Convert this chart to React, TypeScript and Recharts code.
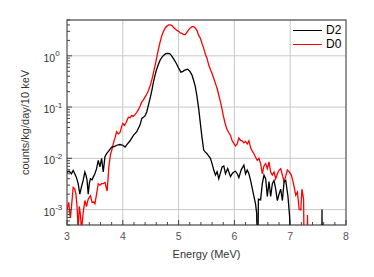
import { LineChart, Line, XAxis, YAxis, CartesianGrid, ReferenceArea } from "recharts";

// energy (MeV) and rate (counts/kg/day/10 keV); 0 means an empty bin
const d2Energy = [
  3.0, 3.04, 3.08, 3.11, 3.14, 3.17, 3.2, 3.23, 3.26, 3.29, 3.32, 3.34, 3.36, 3.38, 3.4, 3.42, 3.45, 3.47, 3.5,
  3.53, 3.56, 3.59, 3.62, 3.65, 3.68, 3.71, 3.75, 3.8, 3.85, 3.89, 3.95, 4.0, 4.04, 4.08, 4.13, 4.19, 4.25, 4.31,
  4.34, 4.37, 4.4, 4.43, 4.46, 4.49, 4.52, 4.55, 4.58, 4.61, 4.64, 4.67, 4.7, 4.73, 4.77, 4.8, 4.84, 4.87, 4.91,
  4.96, 5.0, 5.04, 5.07, 5.1, 5.16, 5.2, 5.24, 5.27, 5.3, 5.33, 5.36, 5.39, 5.42, 5.45, 5.48, 5.51, 5.54, 5.57,
  5.6, 5.63, 5.66, 5.69, 5.72, 5.75, 5.78, 5.81, 5.84, 5.88, 5.93, 5.96, 5.99, 6.02, 6.05, 6.08, 6.12, 6.17,
  6.2, 6.23, 6.26, 6.29, 6.32, 6.35, 6.38, 6.4, 6.41, 6.43, 6.47, 6.5, 6.53, 6.56, 6.59, 6.62, 6.65, 6.68, 6.71,
  6.74, 6.77, 6.8, 6.83, 6.86, 6.89, 6.92, 6.96, 6.99, 7.01, 7.56, 7.57, 7.58, 8.0,
];
const d2Counts = [
  0.0054, 0.0056, 0.005, 0.0058, 0.005, 0.0042, 0.0032, 0.002, 0.0028, 0.0037, 0.0054, 0.0047, 0.0037, 0.002,
  0.0032, 0.004, 0.0038, 0.0043, 0.005, 0.0063, 0.0091, 0.0068, 0.01, 0.0054, 0.0107, 0.0123, 0.014, 0.0166,
  0.017, 0.018, 0.0186, 0.018, 0.0166, 0.019, 0.022, 0.028, 0.033, 0.045, 0.06, 0.063, 0.068, 0.081, 0.11, 0.15,
  0.21, 0.31, 0.43, 0.56, 0.69, 0.83, 0.93, 1.02, 1.1, 1.12, 1.1, 1.02, 0.87, 0.71, 0.58, 0.48, 0.49, 0.52, 0.55,
  0.5, 0.42, 0.33, 0.25, 0.16, 0.093, 0.048, 0.025, 0.0145, 0.0132, 0.0123, 0.011, 0.01, 0.0079, 0.0059, 0.0047,
  0.0055, 0.004, 0.0052, 0.0068, 0.0071, 0.005, 0.0063, 0.0044, 0.005, 0.0054, 0.0056, 0.005, 0.0042, 0.0059,
  0.0074, 0.005, 0.0059, 0.005, 0.0037, 0.0026, 0.0018, 0.00126, 0.00083, 0, 0.0016, 0.00155, 0.0032, 0.0047,
  0.004, 0.0018, 0.0035, 0.0018, 0.0032, 0.0037, 0.0025, 0.0015, 0.002, 0.0025, 0.0015, 0.0035, 0.0037, 0.0018,
  0.00072, 0, 0, 0.001, 0, 0,
];

const d0Energy = [
  3.0, 3.03, 3.06, 3.08, 3.11, 3.14, 3.16, 3.18, 3.2, 3.22, 3.24, 3.26, 3.29, 3.32, 3.35, 3.38, 3.42, 3.45, 3.48,
  3.5, 3.53, 3.56, 3.59, 3.62, 3.65, 3.68, 3.72, 3.75, 3.78, 3.8, 3.83, 3.86, 3.89, 3.92, 3.95, 3.98, 4.0, 4.03,
  4.06, 4.1, 4.13, 4.16, 4.19, 4.22, 4.25, 4.28, 4.31, 4.34, 4.37, 4.4, 4.43, 4.46, 4.49, 4.52, 4.55, 4.58, 4.61,
  4.64, 4.67, 4.7, 4.73, 4.76, 4.79, 4.82, 4.85, 4.88, 4.92, 4.96, 5.0, 5.03, 5.06, 5.09, 5.12, 5.15, 5.18, 5.21,
  5.24, 5.27, 5.3, 5.33, 5.36, 5.39, 5.42, 5.45, 5.48, 5.51, 5.54, 5.57, 5.6, 5.63, 5.66, 5.69, 5.72, 5.75, 5.78,
  5.8, 5.83, 5.86, 5.89, 5.93, 5.96, 5.99, 6.02, 6.05, 6.08, 6.11, 6.14, 6.17, 6.2, 6.23, 6.26, 6.29, 6.32, 6.35,
  6.38, 6.41, 6.44, 6.47, 6.5, 6.53, 6.56, 6.59, 6.62, 6.65, 6.68, 6.71, 6.74, 6.77, 6.8, 6.83, 6.86, 6.89, 6.92,
  6.95, 6.98, 7.02, 7.05, 7.07, 7.1, 7.13, 7.16, 7.19, 7.21, 7.24, 7.26, 7.29, 7.31, 7.33, 8.0,
];
const d0Counts = [
  0.00098, 0.00138, 0.00069, 0.00112, 0.0027, 0.0025, 0.002, 0.00115, 0.0004, 0.00115, 0.0008, 0.0004, 0.00087,
  0.0015, 0.00115, 0.0016, 0.00186, 0.00138, 0.0014, 0.0013, 0.002, 0.0032, 0.003, 0.0032, 0.0032, 0.0034, 0.0023,
  0.0068, 0.012, 0.014, 0.0195, 0.025, 0.033, 0.03, 0.032, 0.042, 0.048, 0.044, 0.05, 0.063, 0.062, 0.069, 0.066,
  0.072, 0.079, 0.089, 0.105, 0.126, 0.138, 0.158, 0.18, 0.21, 0.26, 0.34, 0.47, 0.66, 0.95, 1.38, 1.9, 2.5, 3.0,
  3.5, 3.8, 4.0, 4.0, 3.9, 3.5, 3.2, 3.0, 2.8, 2.75, 2.6, 2.6, 2.9, 3.2, 3.5, 3.7, 3.7, 3.5, 3.1, 2.5, 2.2, 1.74,
  1.4, 1.07, 0.89, 0.66, 0.54, 0.45, 0.36, 0.29, 0.23, 0.17, 0.126, 0.089, 0.069, 0.05, 0.038, 0.033, 0.028,
  0.022, 0.0195, 0.0174, 0.019, 0.025, 0.0224, 0.022, 0.02, 0.0214, 0.019, 0.022, 0.0162, 0.0138, 0.0123,
  0.0105, 0.0091, 0.01, 0.0079, 0.005, 0.0071, 0.0079, 0.0063, 0.0085, 0.0054, 0.0047, 0.0054, 0.004, 0.005,
  0.0059, 0.0063, 0.0047, 0.0035, 0.0045, 0.0059, 0.0055, 0.0047, 0.0035, 0.0028, 0.0019, 0.0022, 0.001,
  0.00098, 0.0025, 0.0016, 0, 0, 0.00078, 0, 0,
];

const xMajor = [3, 4, 5, 6, 7, 8];
const yMajor = [0.001, 0.01, 0.1, 1];
const yExp = ["-3", "-2", "-1", "0"];

// minor ticks every 0.2 MeV, and 2..9 within each decade
const xTicks = Array.from({ length: 26 }, (_, i) => +(3 + i * 0.2).toFixed(1));
const yTicks = [0.0005, 0.0006, 0.0007, 0.0008, 0.0009].concat(
  ...yMajor.map((d) => [1, 2, 3, 4, 5, 6, 7, 8, 9].map((m) => +(m * d).toPrecision(2)))
).filter((v) => v <= 5);

const FLOOR = 1e-5; // empty bins drop below the axis and get clipped
const d2Data = d2Energy.map((e, i) => ({ e, v: d2Counts[i] > 0 ? d2Counts[i] : FLOOR }));
const d0Data = d0Energy.map((e, i) => ({ e, v: d0Counts[i] > 0 ? d0Counts[i] : FLOOR }));

const FONT = "'Liberation Sans', Arial, Helvetica, sans-serif";
const TICK = "#444";

const XTick = (props: any) => {
  const { x, y, payload } = props;
  const major = xMajor.includes(payload.value);
  return (
    <g>
      <line x1={x} x2={x} y1={y} y2={y - (major ? 5 : 3)} stroke={TICK} strokeWidth={1} />
      {major && (
        <text x={x} y={y + 14.5} textAnchor="middle" fontSize={10.5} fill="#555" fontFamily={FONT}>
          {payload.value}
        </text>
      )}
    </g>
  );
};

const YTick = (props: any) => {
  const { x, y, payload } = props;
  const idx = yMajor.indexOf(payload.value);
  const major = idx >= 0;
  return (
    <g>
      <line x1={x} x2={x + (major ? 5 : 3)} y1={y} y2={y} stroke={TICK} strokeWidth={1} />
      {major && (
        <text x={43.5} y={y + 6} fontSize={10.5} fill="#333" fontFamily={FONT}>
          10
          <tspan dy={-5.5} fontSize={8}>
            {yExp[idx]}
          </tspan>
        </text>
      )}
    </g>
  );
};

const YTitle = (props: any) => {
  const { viewBox } = props;
  const cy = viewBox.y + viewBox.height / 2;
  return (
    <text x={28.5} y={cy} transform={`rotate(-90, 28.5, ${cy})`} textAnchor="middle" fontSize={11} fill="#333" fontFamily={FONT}>
      counts/kg/day/10 keV
    </text>
  );
};

const XTitle = (props: any) => {
  const { viewBox } = props;
  return (
    <text x={viewBox.x + viewBox.width / 2} y={257.5} textAnchor="middle" fontSize={11} fill="#333" fontFamily={FONT}>
      Energy (MeV)
    </text>
  );
};

const legendItems = [
  { name: "D2", color: "#000000", top: 30 },
  { name: "D0", color: "#ff0000", top: 44 },
];

export default function App() {
  return (
    <div style={{ position: "absolute", left: 0, top: 0, width: 374, height: 277, background: "#fff" }}>
      <LineChart width={374} height={277} margin={{ top: 20, right: 28, bottom: 0, left: 0 }}>
        <CartesianGrid stroke="#c8c8c8" strokeWidth={1} horizontalValues={yMajor} verticalValues={xMajor} />
        <XAxis
          dataKey="e"
          type="number"
          domain={[3, 8]}
          ticks={xTicks}
          interval={0}
          height={52}
          tickSize={0}
          tickMargin={0}
          axisLine={false}
          tickLine={false}
          tick={XTick}
          allowDataOverflow
          label={<XTitle />}
        />
        <YAxis
          type="number"
          scale="log"
          domain={[0.0005, 5]}
          ticks={yTicks}
          interval={0}
          width={67}
          tickSize={0}
          tickMargin={0}
          axisLine={false}
          tickLine={false}
          tick={YTick}
          allowDataOverflow
          label={<YTitle />}
        />
        <Line data={d0Data} dataKey="v" stroke="#ff0000" strokeWidth={1.3} dot={false} isAnimationActive={false} />
        <Line data={d2Data} dataKey="v" stroke="#000000" strokeWidth={1.3} dot={false} isAnimationActive={false} />
        <ReferenceArea x1={3} x2={8} y1={0.0005} y2={5} fill="none" stroke="#6a6a6a" strokeWidth={1.3} />
      </LineChart>
      {legendItems.map((it) => (
        <div key={it.name} style={{ position: "absolute", left: 293, top: it.top - 8, height: 16, display: "flex", alignItems: "center" }}>
          <div style={{ width: 29, height: 0, borderTop: `1.3px solid ${it.color}` }} />
          <span style={{ marginLeft: 4, fontSize: 12, fontFamily: FONT, color: "#000", lineHeight: "16px" }}>{it.name}</span>
        </div>
      ))}
    </div>
  );
}
